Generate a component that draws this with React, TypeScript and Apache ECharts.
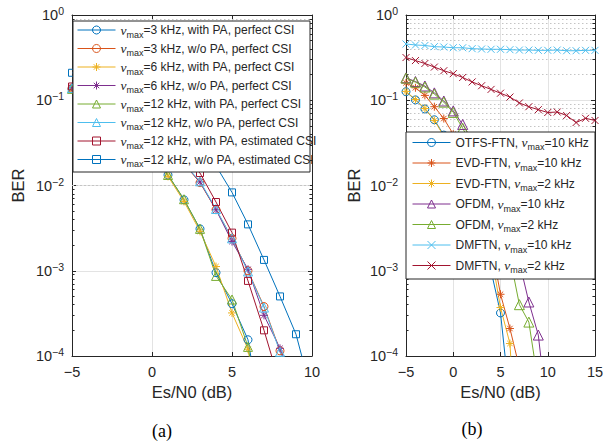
import { useEffect, useRef } from "react";
import * as echarts from "echarts";

// ---------- data ----------
const SNR_A = [-5, -4, -3, -2, -1, 0, 1, 2, 3, 4, 5, 6, 7, 8, 9, 10];
const SNR_B = [-5, -4, -3, -2, -1, 0, 1, 2, 3, 4, 5, 6, 7, 8, 9, 10, 11, 12, 13, 14, 15];

const A_3K_WITH_PA = [0.135, 0.11, 0.085, 0.062, 0.041, 0.024, 0.0133, 0.0068, 0.0031, 9.5e-4, 4.1e-4, 1.55e-4, 1.2e-5];
const A_3K_WO_PA = [0.138, 0.122, 0.103, 0.083, 0.062, 0.044, 0.029, 0.018, 0.0108, 5.2e-3, 2.4e-3, 1.0e-3, 3.8e-4, 1.15e-4, 3.8e-5];
const A_6K_WITH_PA = [0.133, 0.108, 0.083, 0.06, 0.04, 0.023, 0.0128, 0.0065, 0.0029, 1.12e-3, 3.2e-4, 1.2e-4, 1.0e-5];
const A_6K_WO_PA = [0.14, 0.124, 0.105, 0.085, 0.063, 0.044, 0.029, 0.018, 0.011, 5.2e-3, 2.2e-3, 1.04e-3, 3.0e-4, 1.23e-4, 4.2e-5];
const A_12K_WITH_PA = [0.136, 0.111, 0.086, 0.063, 0.042, 0.025, 0.0133, 0.0069, 0.0031, 8.7e-4, 4.6e-4, 1.28e-4, 1.2e-5];
const A_12K_WO_PA = [0.139, 0.123, 0.104, 0.084, 0.063, 0.045, 0.029, 0.018, 0.0112, 5.3e-3, 2.4e-3, 9.8e-4, 3.7e-4, 1.12e-4, 3.5e-5];
const A_12K_WITH_PA_EST = [0.145, 0.128, 0.109, 0.089, 0.068, 0.048, 0.032, 0.021, 0.014, 6.4e-3, 2.8e-3, 7.6e-4, 2.0e-4, 4.7e-5];
const A_12K_WO_PA_EST = [0.21, 0.19, 0.17, 0.15, 0.125, 0.1, 0.075, 0.05, 0.03, 0.017, 8.3e-3, 3.5e-3, 1.34e-3, 5.0e-4, 1.8e-4, 3.5e-5];

const B_OTFS_10K = [0.126, 0.101, 0.079, 0.059, 0.039, 0.021, 0.0105, 0.0048, 0.0022, 1.0e-3, 3.2e-4, 2.9e-5];
const B_EVD_10K = [0.16, 0.14, 0.114, 0.084, 0.061, 0.04, 0.023, 0.012, 0.0055, 0.0021, 5.3e-4, 2.1e-4, 7.3e-5];
const B_EVD_2K = [0.127, 0.102, 0.08, 0.058, 0.038, 0.022, 0.012, 0.0062, 0.0032, 1.6e-3, 3.7e-4, 1.4e-4, 2e-6];
const B_OFDM_10K = [0.183, 0.166, 0.147, 0.122, 0.098, 0.075, 0.052, 0.034, 0.021, 0.012, 0.0065, 0.0031, 1.26e-3, 4.3e-4, 1.76e-4, 1.9e-5];
const B_OFDM_2K = [0.182, 0.163, 0.143, 0.118, 0.095, 0.072, 0.047, 0.029, 0.016, 0.0082, 0.0035, 1.44e-3, 4.0e-4, 2.5e-4, 4.7e-5];
const B_DMFTN_10K = [0.457, 0.445, 0.439, 0.425, 0.421, 0.413, 0.413, 0.403, 0.399, 0.396, 0.396, 0.392, 0.388, 0.388, 0.385, 0.385, 0.388, 0.381, 0.381, 0.385, 0.385];
const B_DMFTN_2K = [0.317, 0.292, 0.27, 0.245, 0.222, 0.205, 0.185, 0.164, 0.148, 0.134, 0.121, 0.109, 0.093, 0.084, 0.0775, 0.0718, 0.0728, 0.0662, 0.0548, 0.0614, 0.0579];

const NAMES_A = [
  "νmax=3 kHz, with PA, perfect CSI",
  "νmax=3 kHz, w/o PA, perfect CSI",
  "νmax=6 kHz, with PA, perfect CSI",
  "νmax=6 kHz, w/o PA, perfect CSI",
  "νmax=12 kHz, with PA, perfect CSI",
  "νmax=12 kHz, w/o PA, perfect CSI",
  "νmax=12 kHz, with PA, estimated CSI",
  "νmax=12 kHz, w/o PA, estimated CSI",
];
const NAMES_B = [
  "OTFS-FTN, νmax=10 kHz",
  "EVD-FTN, νmax=10 kHz",
  "EVD-FTN, νmax=2 kHz",
  "OFDM, νmax=10 kHz",
  "OFDM, νmax=2 kHz",
  "DMFTN, νmax=10 kHz",
  "DMFTN, νmax=2 kHz",
];

const DECADES = [1e-4, 1e-3, 1e-2, 1e-1];
const MINOR_MULT = [2, 3, 4, 5, 6, 7, 8, 9];

// ---------- styles ----------
const BLUE = "#0072BD";
const ORANGE = "#D95319";
const YELLOW = "#EDB120";
const PURPLE = "#7E2F8E";
const GREEN = "#77AC30";
const CYAN = "#4DBEEE";
const RED = "#A2142F";
const AXIS = "#262626";
const FONT = "'Liberation Sans', Arial, Helvetica, sans-serif";
const SERIF = "'Liberation Serif', 'Times New Roman', serif";

const STAR = "path://M5 0L5 10M0 5L10 5M1.6 1.6L8.4 8.4M1.6 8.4L8.4 1.6";
const XMARK = "path://M0 0L10 10M0 10L10 0";

function pairs(xs: number[], ys: number[]) {
  return ys.map((y, i) => [xs[i], y]);
}

function lineSeries(name: string, xs: number[], ys: number[], color: string, symbol: string, size: number, idx: number) {
  return {
    type: "line",
    name,
    xAxisIndex: idx,
    yAxisIndex: idx,
    data: pairs(xs, ys),
    symbol,
    symbolSize: size,
    showAllSymbol: true,
    clip: true,
    z: 2,
    lineStyle: { color, width: 1 },
    itemStyle: { color: "rgba(0,0,0,0)", borderColor: color, borderWidth: 1 },
    emphasis: { disabled: true },
  };
}

const MINOR = DECADES.flatMap((d) => MINOR_MULT.map((m) => m * d));

function minorMarkLine(xMin: number, xMax: number, tickLen: number) {
  const data: any[] = [];
  MINOR.forEach((v) => {
    data.push({ yAxis: v, lineStyle: { type: [1.5, 2.5], color: "#c4c4c4", width: 1 } });
    data.push([
      { coord: [xMin, v], lineStyle: { type: "solid", color: AXIS, width: 1 } },
      { coord: [xMin + tickLen, v] },
    ]);
    data.push([
      { coord: [xMax, v], lineStyle: { type: "solid", color: AXIS, width: 1 } },
      { coord: [xMax - tickLen, v] },
    ]);
  });
  return {
    silent: true,
    symbol: ["none", "none"],
    label: { show: false },
    animation: false,
    z: 1,
    data,
  };
}

const supRich = {
  b: { fontSize: 14.5, fontFamily: FONT, color: AXIS, lineHeight: 16 },
  s: { fontSize: 10.5, fontFamily: FONT, color: AXIS, lineHeight: 16, padding: [0, 0, 8, 0] },
};

function yLabel(v: number) {
  const e = Math.round(Math.log10(v));
  const t = e < 0 ? "−" + -e : String(e);
  return "{b|10}{s|" + t + "}";
}

function xLabel(v: number) {
  return String(v).replace("-", "−");
}

function xAxes(grid: number, min: number, max: number) {
  return [
    {
      type: "value",
      gridIndex: grid,
      position: "bottom",
      min,
      max,
      interval: 5,
      name: "Es/N0 (dB)",
      nameLocation: "middle",
      nameGap: 26,
      nameTextStyle: { fontSize: 16.5, fontFamily: FONT, color: AXIS },
      axisLine: { onZero: false, lineStyle: { color: AXIS, width: 1 } },
      axisTick: { inside: true, length: 4, lineStyle: { color: AXIS } },
      axisLabel: { formatter: xLabel, fontSize: 14.5, fontFamily: FONT, color: AXIS, margin: 8 },
      splitLine: { show: true, lineStyle: { color: "#e3e3e3", width: 1 } },
    },
    {
      type: "value",
      gridIndex: grid,
      position: "top",
      min,
      max,
      interval: 5,
      axisLine: { onZero: false, lineStyle: { color: AXIS, width: 1 } },
      axisTick: { inside: true, length: 4, lineStyle: { color: AXIS } },
      axisLabel: { show: false },
      splitLine: { show: false },
    },
  ];
}

function yAxes(grid: number, nameGap: number) {
  return [
    {
      type: "log",
      logBase: 10,
      gridIndex: grid,
      position: "left",
      min: 1e-4,
      max: 1,
      name: "BER",
      nameLocation: "middle",
      nameGap,
      nameTextStyle: { fontSize: 16.5, fontFamily: FONT, color: AXIS },
      axisLine: { onZero: false, lineStyle: { color: AXIS, width: 1 } },
      axisTick: { inside: true, length: 4, lineStyle: { color: AXIS } },
      axisLabel: { formatter: yLabel, rich: supRich, margin: 8 },
      splitLine: { show: true, lineStyle: { color: "#e3e3e3", width: 1 } },
      minorTick: { show: false },
    },
    {
      type: "log",
      logBase: 10,
      gridIndex: grid,
      position: "right",
      min: 1e-4,
      max: 1,
      axisLine: { onZero: false, lineStyle: { color: AXIS, width: 1 } },
      axisTick: { inside: true, length: 4, lineStyle: { color: AXIS } },
      axisLabel: { show: false },
      splitLine: { show: false },
    },
  ];
}

const legendRich = {
  nu: { fontFamily: SERIF, fontStyle: "italic", fontSize: 13.5, color: AXIS, lineHeight: 14 },
  sub: { fontFamily: FONT, fontSize: 9, color: AXIS, lineHeight: 14, padding: [9, 0, 0, 0] },
};

function legendFormatter(name: string) {
  return name.replace("νmax", "{nu|ν}{sub|max}");
}

function legend(names: string[], left: number, top: number, gap: number) {
  return {
    orient: "vertical",
    left,
    top,
    padding: 0,
    itemWidth: 38,
    itemHeight: 10,
    itemGap: gap,
    data: names,
    selectedMode: false,
    formatter: legendFormatter,
    textStyle: { fontSize: 12, fontFamily: FONT, color: AXIS, lineHeight: 14, rich: legendRich },
    itemStyle: { borderWidth: 1 },
    lineStyle: { width: 1 },
    backgroundColor: "transparent",
    z: 20,
  };
}

export default function App() {
  const ref = useRef<HTMLDivElement>(null);

  useEffect(() => {
    if (!ref.current) return;
    const chart = echarts.init(ref.current, undefined, { renderer: "svg" });

    const seriesA: any[] = [
      lineSeries(NAMES_A[0], SNR_A, A_3K_WITH_PA, BLUE, "circle", 8, 0),
      lineSeries(NAMES_A[1], SNR_A, A_3K_WO_PA, ORANGE, "circle", 8, 0),
      lineSeries(NAMES_A[2], SNR_A, A_6K_WITH_PA, YELLOW, STAR, 8, 0),
      lineSeries(NAMES_A[3], SNR_A, A_6K_WO_PA, PURPLE, STAR, 8, 0),
      lineSeries(NAMES_A[4], SNR_A, A_12K_WITH_PA, GREEN, "triangle", 9, 0),
      lineSeries(NAMES_A[5], SNR_A, A_12K_WO_PA, CYAN, "triangle", 9, 0),
      lineSeries(NAMES_A[6], SNR_A, A_12K_WITH_PA_EST, RED, "rect", 7, 0),
      lineSeries(NAMES_A[7], SNR_A, A_12K_WO_PA_EST, BLUE, "rect", 7, 0),
    ];
    seriesA[0].markLine = minorMarkLine(-5, 10, 0.16);

    const seriesB: any[] = [
      lineSeries(NAMES_B[0], SNR_B, B_OTFS_10K, BLUE, "circle", 8, 2),
      lineSeries(NAMES_B[1], SNR_B, B_EVD_10K, ORANGE, STAR, 8, 2),
      lineSeries(NAMES_B[2], SNR_B, B_EVD_2K, YELLOW, STAR, 8, 2),
      lineSeries(NAMES_B[3], SNR_B, B_OFDM_10K, PURPLE, "triangle", 10, 2),
      lineSeries(NAMES_B[4], SNR_B, B_OFDM_2K, GREEN, "triangle", 10, 2),
      lineSeries(NAMES_B[5], SNR_B, B_DMFTN_10K, CYAN, XMARK, 7, 2),
      lineSeries(NAMES_B[6], SNR_B, B_DMFTN_2K, RED, XMARK, 7, 2),
    ];
    seriesB[0].markLine = minorMarkLine(-5, 15, 0.27);

    const option: any = {
      animation: false,
      backgroundColor: "#ffffff",
      grid: [
        { left: 72, top: 15, width: 240, height: 341, containLabel: false },
        { left: 406, top: 15, width: 189, height: 341, containLabel: false },
      ],
      xAxis: [...xAxes(0, -5, 10), ...xAxes(1, -5, 15)],
      yAxis: [...yAxes(0, 46), ...yAxes(1, 44)],
      legend: [legend(NAMES_A, 77, 21, 0.5), legend(NAMES_B, 412, 133.5, 2.5)],
      series: [...seriesA, ...seriesB],
      graphic: {
        elements: [
          {
            type: "rect",
            z: 10,
            zlevel: 0,
            silent: true,
            shape: { x: 73, y: 21, width: 237, height: 151 },
            style: { fill: "#ffffff", stroke: AXIS, lineWidth: 1 },
          },
          {
            type: "rect",
            z: 10,
            zlevel: 0,
            silent: true,
            shape: { x: 406, y: 132, width: 189, height: 147 },
            style: { fill: "#ffffff", stroke: AXIS, lineWidth: 1 },
          },
          {
            type: "text",
            z: 10,
            x: 162,
            y: 431,
            style: { text: "(a)", font: "18px " + SERIF, fill: "#000", align: "center", verticalAlign: "middle" },
          },
          {
            type: "text",
            z: 10,
            x: 472,
            y: 429,
            style: { text: "(b)", font: "18px " + SERIF, fill: "#000", align: "center", verticalAlign: "middle" },
          },
        ],
      },
    };

    chart.setOption(option);
    return () => chart.dispose();
  }, []);

  return (
    <div
      ref={ref}
      style={{ position: "fixed", left: 0, top: 0, width: 613, height: 445, background: "#fff" }}
    />
  );
}
